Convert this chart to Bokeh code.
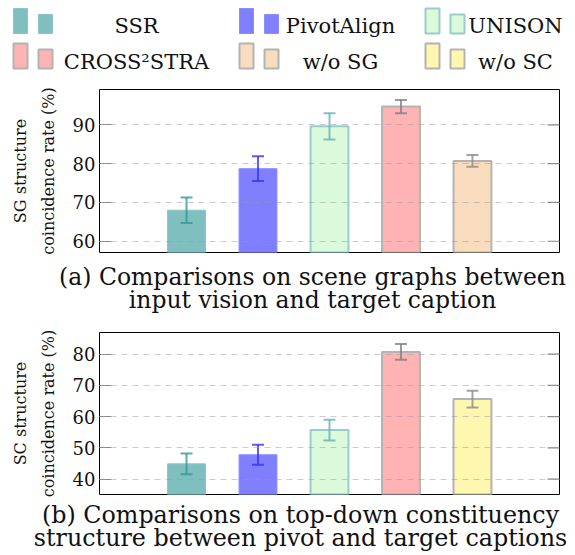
from bokeh.plotting import figure
from bokeh.layouts import column
from bokeh.models import Range1d, FixedTicker
from bokeh.embed import file_html
from bokeh.resources import INLINE
from bokeh.core.properties import value

FONT = "DejaVu Serif"

# ---------------- data ----------------
methods_a = ["SSR", "PivotAlign", "UNISON", "CROSS²STRA", "w/o SG"]
values_a = [68.0, 78.7, 89.6, 94.7, 80.7]
errors_a = [3.3, 3.2, 3.4, 1.7, 1.5]

methods_b = ["SSR", "PivotAlign", "UNISON", "CROSS²STRA", "w/o SC"]
values_b = [44.9, 47.8, 55.7, 80.7, 65.6]
errors_b = [3.3, 3.2, 3.3, 2.5, 2.7]

ticks_a = [60, 70, 80, 90]
ticks_b = [40, 50, 60, 70, 80]

legend_labels = ["SSR", "PivotAlign", "UNISON", "CROSS²STRA", "w/o SG", "w/o SC"]

caption_a = ["(a) Comparisons on scene graphs between", "input vision and target caption"]
caption_b = ["(b) Comparisons on top-down constituency", "structure between pivot and target captions"]
ylabel_a = "SG structure\ncoincidence rate (%)"
ylabel_b = "SC structure\ncoincidence rate (%)"

# ---------------- styles ----------------
STYLE = {
    "SSR":        dict(fill="#80bfbf", line="#8cc5c5", lw=1, err="#339999"),
    "PivotAlign": dict(fill="#8080ff", line="#8c8cff", lw=1, err="#3333ff"),
    "UNISON":     dict(fill="#dbf9db", line="#99cccc", lw=2, err="#66b3b3"),
    "CROSS²STRA": dict(fill="#ffb3b3", line="#b3b3b3", lw=2, err="#808080"),
    "w/o SG":     dict(fill="#f9dcbd", line="#b3b3b3", lw=2, err="#8c8c8c"),
    "w/o SC":     dict(fill="#fff6b0", line="#b3b3b3", lw=2, err="#8c8c8c"),
}

W = 567
PAD = 1.217      # empty space (in bar slots) left and right of the bars
BAR_W = 0.53


def base_fig(top, bottom):
    p = figure(width=W, height=bottom - top, x_range=Range1d(0, W),
               y_range=Range1d(bottom, top),
               output_backend="svg", toolbar_location=None,
               x_axis_location=None, y_axis_location=None, min_border=0)
    p.frame_align = False
    p.outline_line_color = None
    p.grid.visible = False
    return p


def legend_fig(top, bottom):
    p = base_fig(top, bottom)
    col_x = [13, 239, 425]
    text_cx = [136, 340, 515]
    row_top = [8, 43]
    text_y = [25, 61]
    for i, lab in enumerate(legend_labels):
        r, c = divmod(i, 3)
        s = STYLE[lab]
        x0 = col_x[c]
        t = row_top[r]
        p.quad(left=[x0], right=[x0 + 14], top=[t], bottom=[t + 25],
               fill_color=s["fill"], line_color=s["line"], line_width=s["lw"])
        p.quad(left=[x0 + 25], right=[x0 + 39], top=[t + 6], bottom=[t + 25],
               fill_color=s["fill"], line_color=s["line"], line_width=s["lw"])
        p.text(x=[text_cx[c]], y=[text_y[r]], text=[lab], text_align="center",
               text_baseline="alphabetic", text_font=value(FONT),
               text_font_size="21px", text_color="#111111")
    return p


def chart(methods, values, errors, ticks, y0, y1, ylabel, frame_h, btop, bbot):
    xs = list(range(len(methods)))
    x_end = len(methods) - 1 + PAD
    p = figure(x_range=Range1d(-PAD, x_end), y_range=Range1d(y0, y1),
               frame_width=460, frame_height=frame_h,
               min_border_left=99, min_border_right=8,
               min_border_top=btop, min_border_bottom=bbot,
               x_axis_location=None,
               output_backend="svg", toolbar_location=None)
    p.frame_align = False
    fills = [STYLE[m]["fill"] for m in methods]
    lines = [STYLE[m]["line"] for m in methods]
    lws = [STYLE[m]["lw"] for m in methods]
    errc = [STYLE[m]["err"] for m in methods]
    p.vbar(x=xs, top=values, bottom=0, width=BAR_W,
           fill_color=fills, line_color=lines, line_width=lws)
    upper = [v + e for v, e in zip(values, errors)]
    lower = [v - e for v, e in zip(values, errors)]
    p.segment(x0=xs, y0=lower, x1=xs, y1=upper,
              line_color=errc, line_width=2, line_alpha=0.8)
    p.scatter(x=xs, y=upper, marker="dash", size=12,
              line_color=errc, line_width=2, line_alpha=0.8)
    p.scatter(x=xs, y=lower, marker="dash", size=12,
              line_color=errc, line_width=2, line_alpha=0.8)
    # inner tick marks on the right edge (half of the dash is clipped by the frame)
    p.scatter(x=[x_end] * len(ticks), y=ticks, marker="dash", size=24,
              line_color="#888888", line_width=1.2)

    p.outline_line_color = "black"
    p.outline_line_width = 1
    p.outline_line_alpha = 1

    p.xgrid.visible = False
    p.ygrid.ticker = FixedTicker(ticks=ticks)
    p.ygrid.grid_line_color = "#999999"
    p.ygrid.grid_line_alpha = 0.5
    p.ygrid.grid_line_dash = "6 5"
    p.ygrid.level = "overlay"

    ax = p.yaxis[0]
    ax.ticker = FixedTicker(ticks=ticks)
    ax.axis_line_color = None
    ax.major_tick_in = 12
    ax.major_tick_out = 0
    ax.major_tick_line_color = "#888888"
    ax.major_tick_line_width = 1.2
    ax.minor_tick_line_color = None
    ax.major_label_standoff = 4
    ax.major_label_text_font = FONT
    ax.major_label_text_font_size = "18px"
    ax.major_label_text_color = "#111111"
    ax.axis_label = ylabel
    ax.axis_label_text_font = FONT
    ax.axis_label_text_font_size = "16px"
    ax.axis_label_text_line_height = 1.45
    ax.axis_label_text_font_style = "normal"
    ax.axis_label_text_color = "#111111"
    ax.axis_label_standoff = 12
    return p


def caption_fig(lines, top, bottom, cx, ys, size):
    p = base_fig(top, bottom)
    p.text(x=[cx] * len(lines), y=ys, text=lines, text_align="center",
           text_baseline="alphabetic", text_font=value(FONT),
           text_font_size=size, text_color="#111111")
    return p


leg = legend_fig(0, 80)
pa = chart(methods_a, values_a, errors_a, ticks_a, 57.1, 99.1, ylabel_a, 163, 9, 6)
ca = caption_fig(caption_a, 258, 322, 312, [276, 299], "23.5px")
pb = chart(methods_b, values_b, errors_b, ticks_b, 35.1, 86.9, ylabel_b, 162, 10, 6)
cb = caption_fig(caption_b, 500, 555, 300, [514, 537], "23.8px")

layout = column(leg, pa, ca, pb, cb, spacing=0)
open("out.html", "w").write(file_html(layout, INLINE))
